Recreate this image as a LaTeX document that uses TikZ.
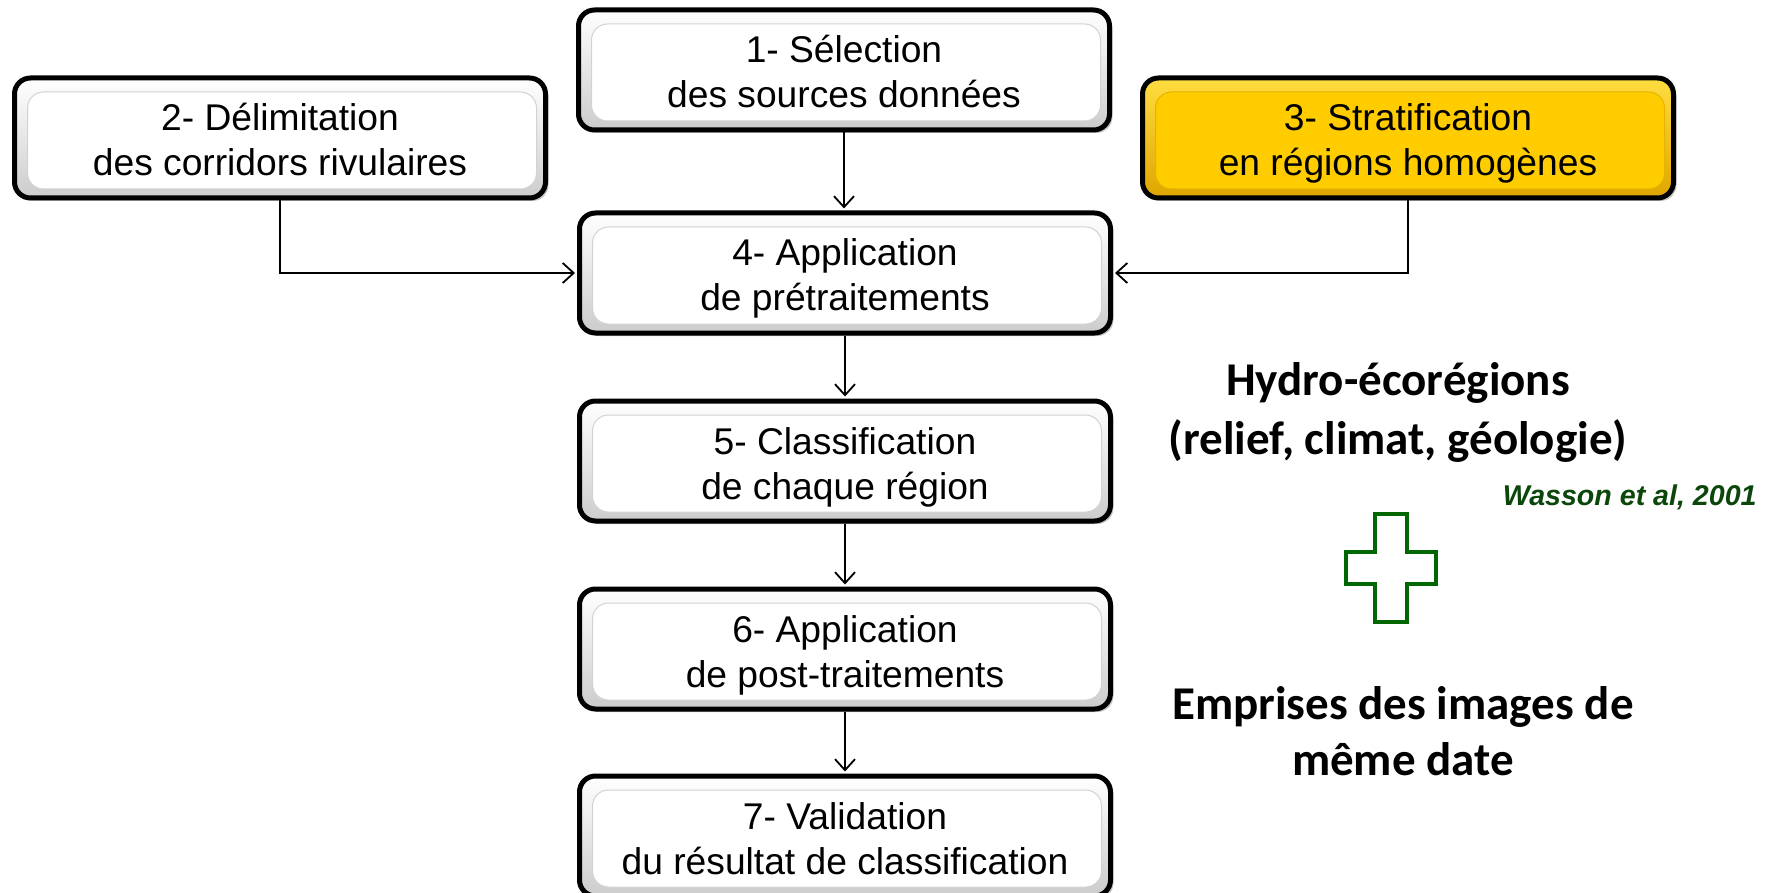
\documentclass[tikz,border=0pt]{standalone}
\usepackage{fontspec}
\setmainfont{Liberation Sans}
\newfontfamily\carlito{Carlito}
\usetikzlibrary{arrows.meta,shadows}

\definecolor{stepgold}{HTML}{FFCC00}
\definecolor{goldlight}{HTML}{FFDD40}
\definecolor{golddark}{HTML}{E0A500}
\definecolor{goldline}{HTML}{E6B400}
\definecolor{plusgreen}{HTML}{006600}
\definecolor{citegreen}{HTML}{0B470B}

% fixed line extents so that the two text lines sit slightly low in each box
\newcommand\firstln{\rule{0pt}{25pt}}
\newcommand\lastln{\rule[-9.5pt]{0pt}{0pt}}

\begin{document}
\begin{tikzpicture}[x=0.5pt,y=-0.5pt,
  stepbox/.style={draw=black, line width=2.5pt, rounded corners=8pt,
    minimum width=265.5pt, minimum height=60pt, inner sep=0pt, align=center,
    font=\fontsize{18.6pt}{22.5pt}\selectfont,
    top color=white, bottom color=gray!40,
    drop shadow={shadow xshift=1.5pt, shadow yshift=-1.5pt, opacity=0.45},
    path picture={\draw[line width=0.5pt, draw=gray!35, fill=white]
      ([shift={(13,14)}]path picture bounding box.north west) rectangle
      ([shift={(-9,-9)}]path picture bounding box.south east);}},
  goldbox/.style={stepbox, top color=goldlight, bottom color=golddark,
    path picture={\draw[line width=0.5pt, draw=goldline, fill=stepgold]
      ([shift={(13,14)}]path picture bounding box.north west) rectangle
      ([shift={(-9,-9)}]path picture bounding box.south east);}},
  conn/.style={line width=0.9pt, shorten >=1pt,
    -{Straight Barb[length=5.5pt,width=10pt,line width=0.9pt]}},
  bigbold/.style={align=center, inner sep=0pt,
    font=\carlito\bfseries\fontsize{23.5pt}{29.5pt}\selectfont},
  citation/.style={inner sep=0pt, text=citegreen,
    font=\bfseries\itshape\fontsize{14.3pt}{17pt}\selectfont}
]
\useasboundingbox (0,0) rectangle (1772,893);

% processing steps
\node[stepbox] (s1) at (844,70)  {\firstln 1- Sélection\\des sources données\lastln};
\node[stepbox] (s2) at (280,138) {\firstln 2- Délimitation\\des corridors rivulaires\lastln};
\node[goldbox] (s3) at (1408,138) {\firstln 3- Stratification\\en régions homogènes\lastln};
\node[stepbox] (s4) at (845,273) {\firstln 4- Application\\de prétraitements\lastln};
\node[stepbox] (s5) at (845,461) {\firstln 5- Classification\\de chaque région\lastln};
\node[stepbox] (s6) at (845,649) {\firstln 6- Application\\de post-traitements\lastln};
\node[stepbox] (s7) at (845,836) {\firstln 7- Validation\\du résultat de classification\lastln};

% flow between steps
\draw[conn] (s1.south) -- (s1.south |- s4.north);
\draw[conn] (s2.south) |- (s4.west);
\draw[conn] (s3.south) |- (s4.east);
\draw[conn] (s4.south) -- (s5.north);
\draw[conn] (s5.south) -- (s6.north);
\draw[conn] (s6.south) -- (s7.north);

% stratification criteria
\node[bigbold] (hydro) at (1398,412) {Hydro-écorégions\\(relief, climat, géologie)};
\node[citation, anchor=east] (wasson) at (1757,497) {Wasson et al, 2001};
\draw[plusgreen, line width=2.4pt]
  (1375,514) -- (1407,514) -- (1407,552) -- (1436,552) -- (1436,584)
  -- (1407,584) -- (1407,622) -- (1375,622) -- (1375,584) -- (1346,584)
  -- (1346,552) -- (1375,552) -- cycle;
\node[bigbold, font=\carlito\bfseries\fontsize{23.5pt}{28pt}\selectfont]
  (emprises) at (1403,731) {Emprises des images de\\même date};
\end{tikzpicture}
\end{document}
